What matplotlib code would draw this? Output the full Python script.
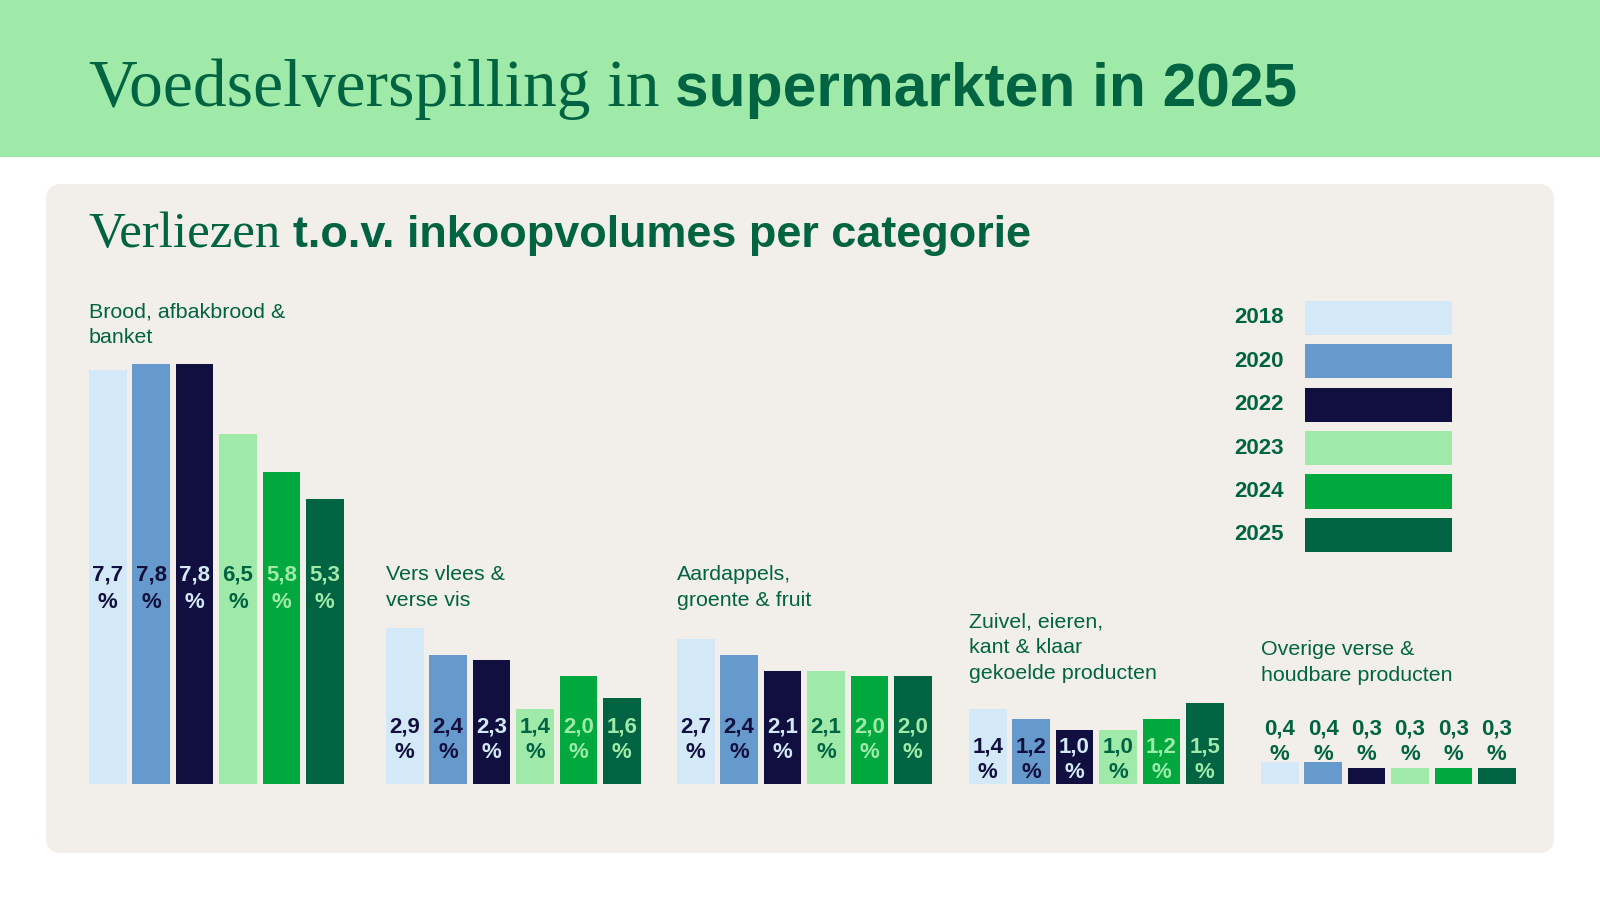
import matplotlib
matplotlib.use("Agg")
import matplotlib.pyplot as plt
from matplotlib.patches import FancyBboxPatch, Rectangle

# data
years = ['2018', '2020', '2022', '2023', '2024', '2025']
categories = ['Brood, afbakbrood &\nbanket',
              'Vers vlees &\nverse vis',
              'Aardappels,\ngroente & fruit',
              'Zuivel, eieren,\nkant & klaar\ngekoelde producten',
              'Overige verse &\nhoudbare producten']
brood = [7.7, 7.8, 7.8, 6.5, 5.8, 5.3]
vlees_vis = [2.9, 2.4, 2.3, 1.4, 2.0, 1.6]
agf = [2.7, 2.4, 2.1, 2.1, 2.0, 2.0]
zuivel = [1.4, 1.2, 1.0, 1.0, 1.2, 1.5]
overig = [0.4, 0.4, 0.3, 0.3, 0.3, 0.3]
series = [brood, vlees_vis, agf, zuivel, overig]

# styling
GREEN_DARK = '#006341'
HEADER = '#9FEAA9'
PANEL = '#F2EFEA'
bar_colors = ['#D3E9F7', '#6699CC', '#110E40', '#9FEAA9', '#00A83E', '#006341']
text_colors = ['#13103F', '#13103F', '#D3E9F7', '#006341', '#9FEAA9', '#9FEAA9']
SERIF = 'Liberation Serif'
SANS = 'Liberation Sans'

# layout (pixels)
PX_PER_UNIT = 53.8
BASE_Y = 784
group_x = [89, 386, 677, 969, 1261]
BAR_STEP, BAR_W = 43.4, 37.5
label_base = [203, 52, 52, 32, 50]        # baseline of the number, px above the axis
cat_base = [467, 204, 204, 157, 129]      # baseline of first category line
LINE = 26.5

fig = plt.figure(figsize=(16, 9), dpi=100)
fig.patch.set_facecolor('white')

bg = fig.add_axes([0, 0, 1, 1])
bg.set_xlim(0, 1600)
bg.set_ylim(900, 0)
bg.axis('off')

bg.add_patch(Rectangle((0, 0), 1600, 157, color=HEADER, lw=0))
bg.add_patch(FancyBboxPatch((46, 184), 1508, 669,
                            boxstyle="round,pad=0,rounding_size=16",
                            facecolor=PANEL, edgecolor='none'))

# titles: serif part + bold sans part
fig.canvas.draw()
renderer = fig.canvas.get_renderer()


def two_part(x, y, light, bold, serif_size, sans_size, gap):
    t1 = bg.text(x, y, light, family=SERIF, fontsize=serif_size,
                 color=GREEN_DARK, va='baseline', ha='left')
    ext = t1.get_window_extent(renderer)
    bg.text(ext.x1 + gap, y, bold, family=SANS, fontsize=sans_size,
            fontweight='bold', color=GREEN_DARK, va='baseline', ha='left')


two_part(89, 106, 'Voedselverspilling in', 'supermarkten in 2025', 48.6, 43.6, 15)
two_part(88, 246.5, 'Verliezen', 't.o.v. inkoopvolumes per categorie', 36.6, 32.4, 13)

# bars
ax = fig.add_axes([0, (900 - BASE_Y) / 900, 1, 500 / 900])
ax.set_xlim(0, 1600)
ax.set_ylim(0, 500 / PX_PER_UNIT)
ax.axis('off')
ax.patch.set_alpha(0)

for g, vals in enumerate(series):
    x0 = group_x[g]
    xs = [x0 + i * BAR_STEP for i in range(len(vals))]
    ax.bar(xs, vals, width=BAR_W, align='edge', color=bar_colors, lw=0)
    for i, (x, v) in enumerate(zip(xs, vals)):
        col = GREEN_DARK if g == 4 else text_colors[i]
        lab = f"{v:.1f}".replace('.', ',')
        for k, s in enumerate([lab, '%']):
            ax.annotate(s, xy=(x + BAR_W / 2, 0),
                        xytext=(0, label_base[g] - k * LINE),
                        textcoords='offset pixels', ha='center', va='baseline',
                        family=SANS, fontsize=16, fontweight='bold', color=col)
    for k, line in enumerate(categories[g].split('\n')):
        ax.annotate(line, xy=(x0, 0), xytext=(0, cat_base[g] - k * 26),
                    textcoords='offset pixels', ha='left', va='baseline',
                    family=SANS, fontsize=15.4, color=GREEN_DARK)

# legend
for i, yr in enumerate(years):
    top = 300.7 + i * 43.4
    bg.add_patch(Rectangle((1305, top), 147, 34.4, color=bar_colors[i], lw=0))
    bg.text(1234, top + 17.2, yr, family=SANS, fontsize=16, fontweight='bold',
            color=GREEN_DARK, ha='left', va='center')

fig.savefig('out.png', dpi=100)
